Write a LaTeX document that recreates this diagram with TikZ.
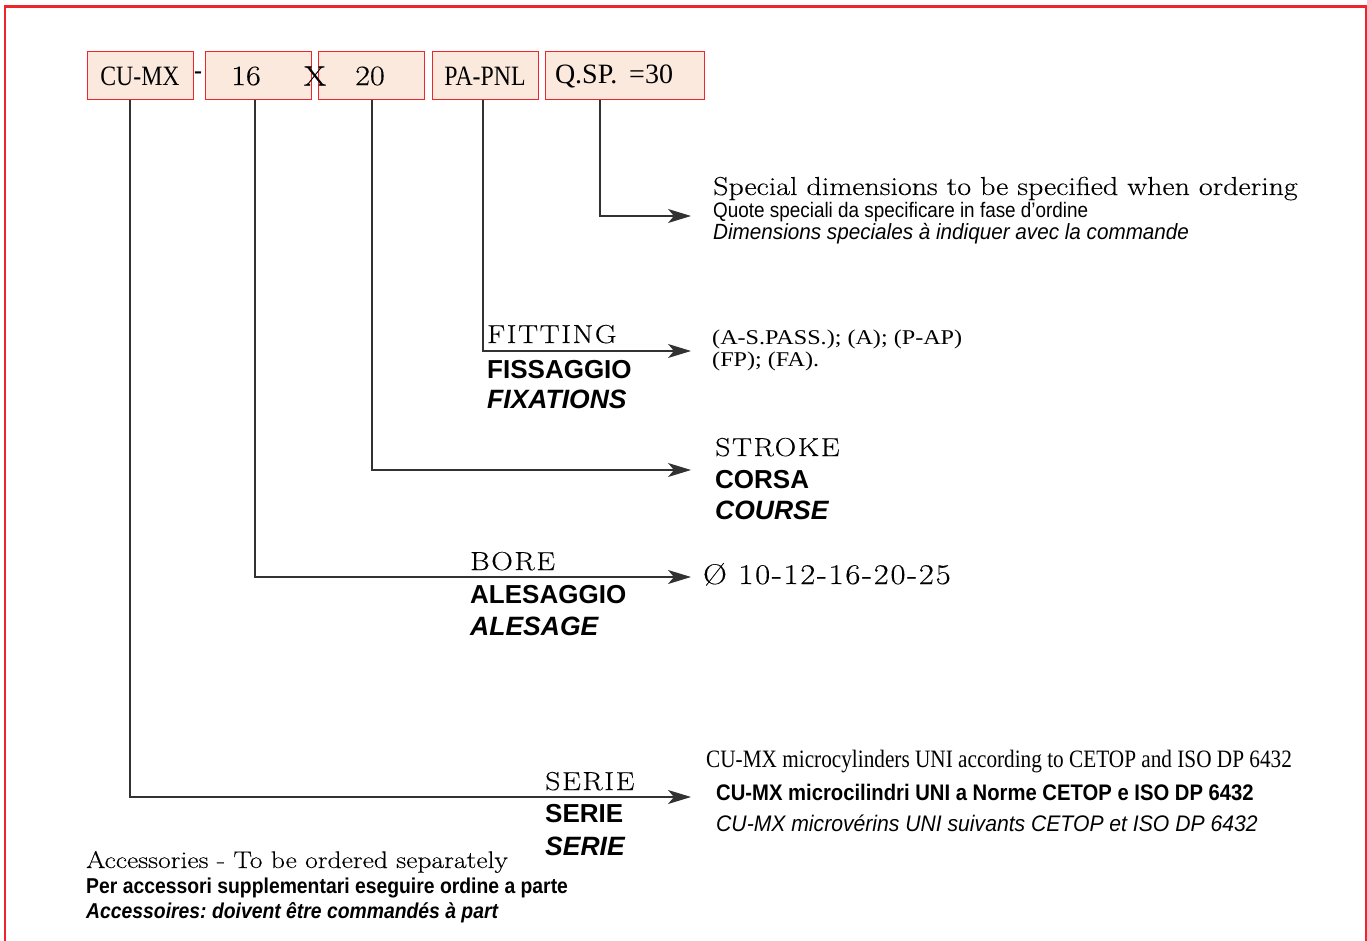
\documentclass[tikz,border=0pt]{standalone}
\usepackage{fontspec}
\newfontfamily\condserif[FakeStretch=0.85]{Liberation Serif}
\newfontfamily\timesfont{Liberation Serif}
\newfontfamily\wideserif[FakeStretch=1.15]{Liberation Serif}
\newfontfamily\narrowsans[FakeStretch=0.9]{Liberation Sans}
\newfontfamily\semisans[FakeStretch=0.94]{Liberation Sans}
\newfontfamily\helv{Liberation Sans}
\newfontfamily\widerm[FakeStretch=1.15, FakeBold=0.3]{Latin Modern Roman}
\newfontfamily\capsrm[FakeStretch=1.15, FakeBold=0.3, LetterSpace=6]{Latin Modern Roman}
\usetikzlibrary{arrows.meta}
\definecolor{framered}{RGB}{237,38,46}
\definecolor{boxfill}{RGB}{252,233,222}
\definecolor{leadgray}{RGB}{50,50,50}
\frenchspacing
\tikzset{
  codebox/.style={draw=framered, fill=boxfill, line width=1pt, minimum width=106pt, minimum height=48pt, inner sep=0pt, font=\fontsize{28}{30}\selectfont\condserif},
  lead/.style={draw=leadgray, line width=1.2pt, -{Stealth[length=23pt,width=14pt,inset=6pt]}},
  txt/.style={anchor=base west, inner sep=0pt},
  rmtext/.style={txt, font=\fontsize{26}{28}\selectfont\widerm},
  caps/.style={txt, font=\fontsize{26}{28}\selectfont\capsrm},
  bsans/.style={txt, font=\fontsize{26}{28}\selectfont\helv\bfseries},
  bisans/.style={txt, font=\fontsize{26.5}{28}\selectfont\helv\bfseries\itshape},
  nsans/.style={txt, font=\fontsize{21}{24}\selectfont\narrowsans},
}
\begin{document}
\begin{tikzpicture}[x=1pt, y=-1pt]
\useasboundingbox (0,0) rectangle (1367,941);
% frame
\draw[framered, line width=2pt] (5,941) -- (5,6.5) -- (1366,6.5) -- (1366,941);
\draw[framered, line width=3pt] (4,6.5) -- (1367,6.5);
% code boxes
\node[codebox] (cumx) at (140,76) {CU-MX};
\node[codebox] (b16) at (258,76) {};
\node[codebox] (b20) at (371,76) {};
\node[codebox] (papnl) at (485,76) {PA-PNL};
\node[codebox, minimum width=159pt, text width=139pt, align=left, font=\fontsize{28}{30}\selectfont\timesfont] (qsp) at (624.5,76) {Q.SP.\hspace{12pt}=30};
\path (198,76) node[font=\fontsize{28}{30}\selectfont\condserif] (dash) {-}
  (246,76) node[font=\fontsize{28}{30}\selectfont\widerm] (n16) {16}
  (370,76) node[font=\fontsize{28}{30}\selectfont\widerm] (n20) {20}
  (315,76) node[font=\fontsize{28}{30}\selectfont\widerm] (times) {X};
% leads
\foreach \b/\y in {cumx/797, b16/577, b20/470, papnl/351, qsp/216}
  \coordinate (\b-tip) at (691,\y);
\foreach \b/\dx in {cumx/-10, b16/-3, b20/1, papnl/-2, qsp/-24.5}
  \draw[lead] ([xshift=\dx pt]\b.south) |- (\b-tip);
% special dimensions
\node[rmtext] (spec-en) at (713,195) {Special dimensions to be specified when ordering};
\node[nsans] (spec-it) at (713,218) {Quote speciali da specificare in fase d’ordine};
\node[txt, font=\fontsize{22}{24}\selectfont\semisans\itshape] (spec-fr) at (713,240) {Dimensions speciales à indiquer avec la commande};
% fitting
\node[caps] (fit-en) at (487,343) {FITTING};
\node[bsans] (fit-it) at (487,378) {FISSAGGIO};
\node[bisans] (fit-fr) at (487,408) {FIXATIONS};
\node[txt, font=\fontsize{21}{24}\selectfont\wideserif] (fit-a) at (712,344) {(A-S.PASS.); (A); (P-AP)};
\node[txt, font=\fontsize{21}{24}\selectfont\wideserif] (fit-b) at (712,366) {(FP); (FA).};
% stroke
\node[caps] (str-en) at (715,456) {STROKE};
\node[bsans] (str-it) at (715,488) {CORSA};
\node[bisans] (str-fr) at (715,519) {COURSE};
% bore
\node[caps] (bore-en) at (470,570) {BORE};
\node[bsans] (bore-it) at (470,603) {ALESAGGIO};
\node[bisans] (bore-fr) at (470,635) {ALESAGE};
\node[caps, font=\fontsize{28.5}{30}\selectfont\capsrm] (bore-val) at (703,584) {Ø 10-12-16-20-25};
% serie
\node[caps] (ser-en) at (545,790) {SERIE};
\node[bsans] (ser-it) at (545,822) {SERIE};
\node[bisans] (ser-fr) at (545,855) {SERIE};
\node[txt, font=\fontsize{25}{26}\selectfont\condserif] (ser-en2) at (706,767) {CU-MX microcylinders UNI according to CETOP and ISO DP 6432};
\node[txt, font=\fontsize{22.5}{24}\selectfont\narrowsans\bfseries] (ser-it2) at (716,800) {CU-MX microcilindri UNI a Norme CETOP e ISO DP 6432};
\node[txt, font=\fontsize{22.5}{24}\selectfont\semisans\itshape] (ser-fr2) at (716,831) {CU-MX microvérins UNI suivants CETOP et ISO DP 6432};
% accessories
\node[txt, font=\fontsize{24}{26}\selectfont\widerm] (acc-en) at (86,868) {Accessories - To be ordered separately};
\node[txt, font=\fontsize{21.5}{24}\selectfont\narrowsans\bfseries] (acc-it) at (86,893) {Per accessori supplementari eseguire ordine a parte};
\node[txt, font=\fontsize{21.5}{24}\selectfont\narrowsans\bfseries\itshape] (acc-fr) at (86,918) {Accessoires: doivent être commandés à part};
\end{tikzpicture}
\end{document}
